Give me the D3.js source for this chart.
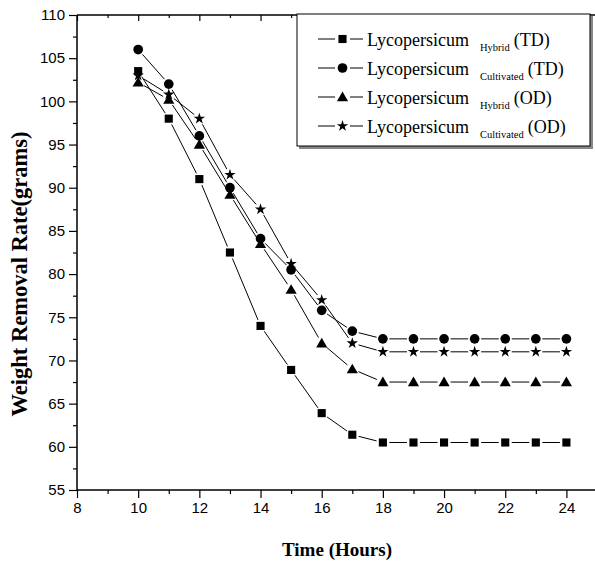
<!DOCTYPE html>
<html><head><meta charset="utf-8">
<script src="https://cdn.jsdelivr.net/npm/d3@7"></script>
<style>body{margin:0;background:#fff}svg{display:block}</style>
</head><body>
<svg id="c" width="595" height="562"></svg>
<script>
const hours = [10,11,12,13,14,15,16,17,18,19,20,21,22,23,24];
const hybridTD     = [103.5,98,91,82.5,74,68.9,63.9,61.4,60.5,60.5,60.5,60.5,60.5,60.5,60.5];
const cultivatedTD = [106,102,96,90,84.1,80.5,75.8,73.4,72.5,72.5,72.5,72.5,72.5,72.5,72.5];
const hybridOD     = [102.2,100.2,95,89.2,83.5,78.2,72,69,67.5,67.5,67.5,67.5,67.5,67.5,67.5];
const cultivatedOD = [103,100.8,98,91.5,87.5,81.2,77,72,71,71,71,71,71,71,71];
const seriesNames = ["Hybrid","Cultivated","Hybrid","Cultivated"];
const seriesTags = ["(TD)","(TD)","(OD)","(OD)"];
const xTicks = [8,10,12,14,16,18,20,22,24];
const yTicks = [55,60,65,70,75,80,85,90,95,100,105,110];

const svg = d3.select("#c");
const L = 77, R = 597, T = 15, B = 490;
const x = d3.scaleLinear().domain([8,25]).range([L,R]);
const y = d3.scaleLinear().domain([55,110]).range([B,T]);

const series = [
  {vals: hybridTD, sym: d3.symbolSquare, size: 66},
  {vals: cultivatedTD, sym: d3.symbolCircle, size: 74},
  {vals: hybridOD, sym: d3.symbolTriangle, size: 54},
  {vals: cultivatedOD, sym: d3.symbolStar, size: 40}
];

// axes
const tickFont = "'Liberation Sans', Arial, sans-serif";
const gx = svg.append("g").attr("transform",`translate(0,${B})`);
gx.call(d3.axisBottom(x).tickValues(xTicks).tickSize(8).tickPadding(4).tickFormat(d3.format("d")));
const gxm = svg.append("g").attr("transform",`translate(0,${B})`);
gxm.call(d3.axisBottom(x).tickValues(d3.range(9,25,2)).tickSize(4).tickFormat(""));
const gy = svg.append("g").attr("transform",`translate(${L},0)`);
gy.call(d3.axisLeft(y).tickValues(yTicks).tickSize(8).tickPadding(4).tickFormat(d3.format("d")));
const gym = svg.append("g").attr("transform",`translate(${L},0)`);
gym.call(d3.axisLeft(y).tickValues(d3.range(57.5,110,5)).tickSize(4).tickFormat(""));
const gt = svg.append("g").attr("transform",`translate(0,${T})`);
gt.call(d3.axisBottom(x).tickValues(xTicks).tickSize(6).tickFormat(""));
const gtm = svg.append("g").attr("transform",`translate(0,${T})`);
gtm.call(d3.axisBottom(x).tickValues(d3.range(9,25,2)).tickSize(3).tickFormat(""));
[gx,gxm,gy,gym,gt,gtm].forEach(g=>{
  g.select(".domain").remove();
  g.selectAll("line").attr("stroke","#000").attr("stroke-width",1.2);
  g.selectAll("text").attr("fill","#000").style("font-family",tickFont).style("font-size","15px");
});
svg.append("line").attr("x1",L).attr("x2",R).attr("y1",B).attr("y2",B).attr("stroke","#000").attr("stroke-width",1.5);
svg.append("line").attr("x1",L).attr("x2",R).attr("y1",T).attr("y2",T).attr("stroke","#000").attr("stroke-width",1.5);
svg.append("line").attr("x1",L).attr("x2",L).attr("y1",T).attr("y2",B).attr("stroke","#000").attr("stroke-width",1.5);

// axis titles
const serif = "'Liberation Serif', 'Times New Roman', serif";
svg.append("text").attr("x",(L+R)/2).attr("y",556).attr("text-anchor","middle")
  .style("font-family",serif).style("font-weight","bold").style("font-size","19px").text("Time (Hours)");
svg.append("text").attr("transform",`translate(27,274) rotate(-90)`).attr("text-anchor","middle")
  .style("font-family",serif).style("font-weight","bold").style("font-size","22.5px").text("Weight Removal Rate(grams)");

// series: segments with gaps around markers
const gap = 6.5;
series.forEach(s=>{
  const pts = hours.map((h,i)=>[x(h), y(s.vals[i])]);
  const g = svg.append("g");
  for (let i=0;i<pts.length-1;i++){
    const [x1,y1]=pts[i],[x2,y2]=pts[i+1];
    const dx=x2-x1, dy=y2-y1, len=Math.hypot(dx,dy);
    if (len<=2*gap) continue;
    const ux=dx/len, uy=dy/len;
    g.append("line").attr("x1",x1+ux*gap).attr("y1",y1+uy*gap).attr("x2",x2-ux*gap).attr("y2",y2-uy*gap)
      .attr("stroke","#000").attr("stroke-width",1);
  }
});
series.forEach(s=>{
  const sym = d3.symbol().type(s.sym).size(s.size);
  svg.append("g").selectAll("path").data(hours).join("path")
    .attr("transform",(h,i)=>`translate(${x(h)},${y(s.vals[i]) + (s.sym===d3.symbolTriangle?1:0)})`)
    .attr("d",sym()).attr("fill","#000");
});

// legend
const lg = svg.append("g");
lg.append("rect").attr("x",299).attr("y",16).attr("width",294).attr("height",133).attr("fill","#888");
lg.append("rect").attr("x",297).attr("y",14).attr("width",293).attr("height",132).attr("fill","#fff").attr("stroke","#000").attr("stroke-width",1);
series.forEach((s,i)=>{
  const cy = 39 + i*29;
  lg.append("line").attr("x1",318).attr("x2",335).attr("y1",cy).attr("y2",cy).attr("stroke","#000").attr("stroke-width",1);
  lg.append("line").attr("x1",350).attr("x2",363).attr("y1",cy).attr("y2",cy).attr("stroke","#000").attr("stroke-width",1);
  lg.append("path").attr("transform",`translate(342.5,${cy + (s.sym===d3.symbolTriangle?1:0)})`)
    .attr("d",d3.symbol().type(s.sym).size(s.size)()).attr("fill","#000");
  const t = lg.append("text").attr("x",367).attr("y",cy+6.8).style("font-family",serif).style("font-size","18px");
  t.append("tspan").text("Lycopersicum");
  t.append("tspan").attr("dx",11).attr("dy",5).style("font-size","10.5px").text(seriesNames[i]);
  t.append("tspan").attr("dx",4).attr("dy",-5).text(seriesTags[i]);
});
</script>
</body></html>
